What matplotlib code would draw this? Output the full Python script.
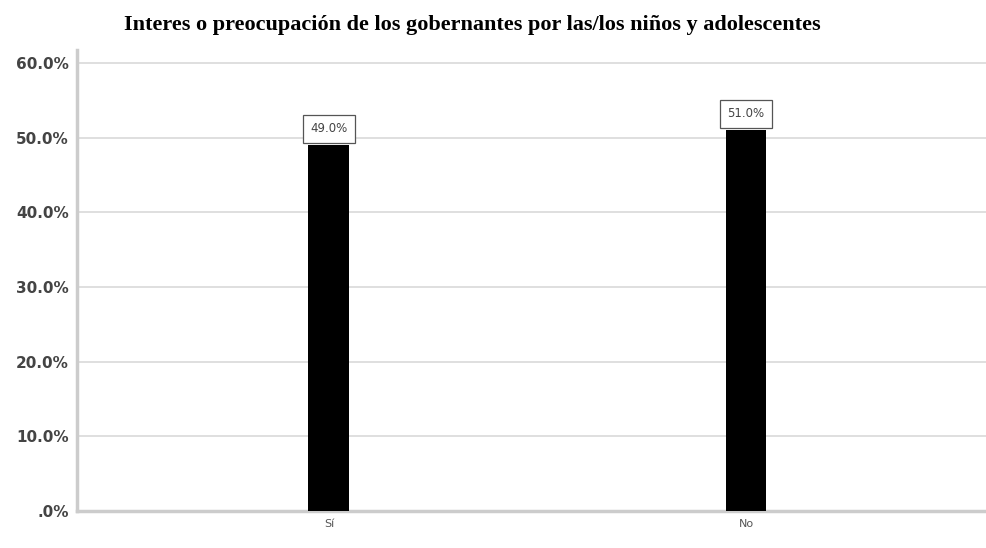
import matplotlib.pyplot as plt
from matplotlib.ticker import FuncFormatter

categorias = ["Sí", "No"]
porcentajes = [49.0, 51.0]
ticks_y = [0, 10, 20, 30, 40, 50, 60]

fig = plt.figure(figsize=(9.87, 5.48), dpi=100)
ax = fig.add_axes([77 / 987, 1 - 511 / 548, 910 / 987, (511 - 50) / 548])

x = list(range(len(categorias)))
bars = ax.bar(x, porcentajes, width=0.098, color="black", zorder=3)

# etiquetas con recuadro encima de cada barra
for bar, val in zip(bars, porcentajes):
    ax.text(bar.get_x() + bar.get_width() / 2, val + 1.3, f"{val:.1f}%",
            ha="center", va="bottom", fontsize=8.5, color="#444444",
            family="DejaVu Sans", zorder=4,
            bbox=dict(boxstyle="square,pad=0.6", facecolor="white",
                      edgecolor="#555555", linewidth=0.9))

ax.set_xlim(-0.604, 1.578)
ax.set_ylim(0, 60 * (511 - 50) / 448)
ax.set_yticks(ticks_y)
ax.yaxis.set_major_formatter(FuncFormatter(lambda v, p: ".0%" if v == 0 else f"{v:.1f}%"))
ax.set_xticks(x)
ax.set_xticklabels(categorias, fontsize=8, color="#555555", family="Liberation Sans Narrow")
for lbl in ax.get_yticklabels():
    lbl.set_fontsize(11)
    lbl.set_fontweight("bold")
    lbl.set_color("#444444")
    lbl.set_family("DejaVu Sans")

ax.grid(axis="y", color="#d9d9d9", linewidth=1.2, zorder=0)
ax.tick_params(axis="both", length=0, pad=6)
for s in ["top", "right"]:
    ax.spines[s].set_visible(False)
for s in ["left", "bottom"]:
    ax.spines[s].set_color("#cccccc")
    ax.spines[s].set_linewidth(2.5)

fig.text(472 / 987, 1 - 25 / 548,
         "Interes o preocupación de los gobernantes por las/los niños y adolescentes",
         ha="center", va="center", fontsize=16, fontweight="bold",
         family="Liberation Serif")

fig.savefig("out.png", dpi=100)
